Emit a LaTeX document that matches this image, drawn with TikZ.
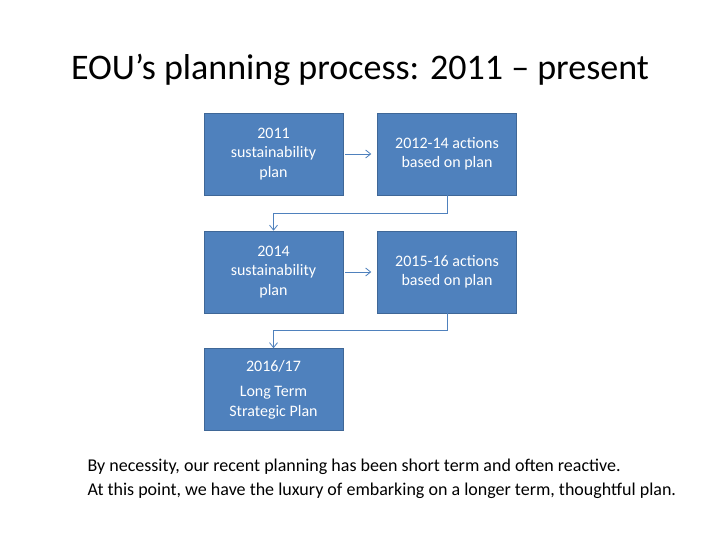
\documentclass[tikz,border=0pt]{standalone}
\usepackage{fontspec}
\setmainfont{Carlito}
\usetikzlibrary{arrows.meta}
\definecolor{boxblue}{HTML}{4F81BD}
\begin{document}
\begin{tikzpicture}[x=1pt,y=-1pt,
  bx/.style={fill=boxblue,draw=boxblue!80!black,line width=0.5pt,minimum width=139pt,minimum height=82pt,text=white,font=\fontsize{16}{19.5}\selectfont,align=center,inner sep=0pt},
  conn/.style={draw=boxblue,line width=0.8pt,-{Straight Barb[length=5pt,width=8pt]}}]
\useasboundingbox (0,0) rectangle (720,540);
\node[font=\fontsize{36}{42}\selectfont] (title) at (360,70) {EOU’s planning process: 2011 – present};
\node[bx] (b1) at (273.5,154) {2011\\sustainability\\plan};
\node[bx] (b2) at (447,154) {2012-14 actions\\based on plan};
\node[bx] (b3) at (273.5,272) {2014\\sustainability\\plan};
\node[bx] (b4) at (447,272) {2015-16 actions\\based on plan};
\node[bx] (b5) at (273.5,389.5) {2016/17\\[6pt]Long Term\\Strategic Plan};
\draw[conn] ([xshift=2pt]b1.east) -- ([xshift=-6pt]b2.west);
\draw[conn] ([xshift=2pt]b3.east) -- ([xshift=-6pt]b4.west);
\draw[conn] (b2.south) -- ++(0,18) -| (b3.north);
\draw[conn] (b4.south) -- ++(0,17) -| (b5.north);
\node[anchor=west,align=left,font=\fontsize{18}{24}\selectfont] (txt) at (84,479) {By necessity, our recent planning has been short term and often reactive.\\At this point, we have the luxury of embarking on a longer term, thoughtful plan.};
\end{tikzpicture}
\end{document}
